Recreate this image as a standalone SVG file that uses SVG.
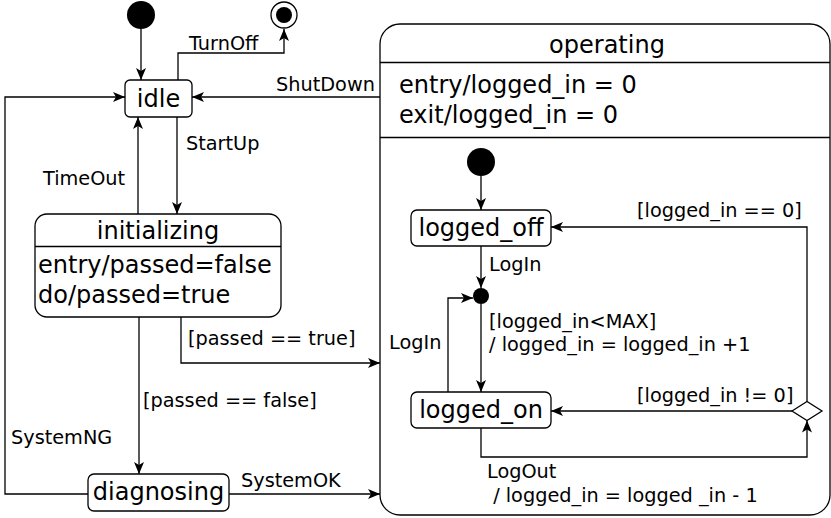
<svg xmlns="http://www.w3.org/2000/svg" width="831" height="518" viewBox="0 0 831 518">
<defs>
<marker id="arr" markerUnits="userSpaceOnUse" markerWidth="13" markerHeight="11" refX="12" refY="5" orient="auto">
<path d="M0,0 L12,5 L0,10 L3,5 z" fill="#000"/>
</marker>
<style>
.box{fill:#fff;stroke:#000;stroke-width:1.3}
.big{font-family:"DejaVu Sans",sans-serif;font-size:24px;fill:#000}
.sm{font-family:"DejaVu Sans",sans-serif;font-size:19.3px;fill:#000}
.mid{text-anchor:middle}
.c{fill:none;stroke:#000;stroke-width:1.3;marker-end:url(#arr)}
</style>
</defs>
<rect width="831" height="518" fill="#fff"/>
<g id="operating">
<rect class="box" x="380" y="24" width="450" height="491" rx="20"/>
<line x1="380" y1="62.5" x2="830" y2="62.5" stroke="#000" stroke-width="1.3"/>
<line x1="380" y1="137.5" x2="830" y2="137.5" stroke="#000" stroke-width="1.3"/>
<text class="big mid" x="607" y="53">operating</text>
<text class="big" x="399" y="93">entry/logged_in = 0</text>
<text class="big" x="399" y="123">exit/logged_in = 0</text>
</g>
<g id="connectors">
<path class="c" d="M141,29 V80"/>
<path class="c" d="M178,80 V53 H284 V29"/>
<path class="c" d="M380,97 H192"/>
<path class="c" d="M177,117 V214"/>
<path class="c" d="M138,214 V117"/>
<path class="c" d="M181,317 V363 H380"/>
<path class="c" d="M139,317 V474"/>
<path class="c" d="M229,494 H380"/>
<path class="c" d="M88,494 H5 V97 H125"/>
<path class="c" d="M481,176 V210"/>
<path class="c" d="M481,246 V288"/>
<path class="c" d="M481,304 V392"/>
<path class="c" d="M448,392 V298 H473"/>
<path class="c" d="M807,401.5 V227 H551"/>
<path class="c" d="M792,411 H551"/>
<path class="c" d="M481,428 V457 H807 V420.5"/>
<text class="sm" x="189" y="50">TurnOff</text>
<text class="sm" x="276" y="91">ShutDown</text>
<text class="sm" x="186" y="150">StartUp</text>
<text class="sm" x="43" y="185">TimeOut</text>
<text class="sm" x="188" y="345">[passed == true]</text>
<text class="sm" x="143" y="407">[passed == false]</text>
<text class="sm" x="11" y="444">SystemNG</text>
<text class="sm" x="241" y="487">SystemOK</text>
<text class="sm" x="637" y="217">[logged_in == 0]</text>
<text class="sm" x="489" y="271">LogIn</text>
<text class="sm" x="489" y="328">[logged_in&lt;MAX]</text>
<text class="sm" x="489" y="351">/ logged_in = logged_in +1</text>
<text class="sm" x="389" y="349">LogIn</text>
<text class="sm" x="637" y="402">[logged_in != 0]</text>
<text class="sm" x="487" y="478">LogOut</text>
<text class="sm" x="487" y="502" xml:space="preserve"> / logged_in = logged _in - 1</text>
</g>
<g id="init_top"><circle cx="141" cy="15" r="14" fill="#000"/></g>
<g id="final"><circle cx="284" cy="15" r="13" fill="#fff" stroke="#000" stroke-width="1.3"/><circle cx="284" cy="15" r="8" fill="#000"/></g>
<g id="idle"><rect class="box" x="125" y="80" width="67" height="37" rx="5"/><text class="big mid" x="158.5" y="107">idle</text></g>
<g id="initializing">
<rect class="box" x="35" y="214" width="246" height="103" rx="12"/>
<line x1="35" y1="246.5" x2="281" y2="246.5" stroke="#000" stroke-width="1.3"/>
<text class="big mid" x="158" y="239">initializing</text>
<text class="big" x="38" y="273">entry/passed=false</text>
<text class="big" x="38" y="303">do/passed=true</text>
</g>
<g id="diagnosing"><rect class="box" x="88" y="474" width="141" height="37" rx="6"/><text class="big mid" x="158.5" y="500">diagnosing</text></g>
<g id="init_inner"><circle cx="481" cy="162" r="14" fill="#000"/></g>
<g id="logged_off"><rect class="box" x="411" y="210" width="140" height="36" rx="6"/><text class="big mid" x="481" y="236">logged_off</text></g>
<g id="junction"><circle cx="481" cy="296" r="8" fill="#000"/></g>
<g id="logged_on"><rect class="box" x="411" y="392" width="140" height="36" rx="6"/><text class="big mid" x="481" y="418">logged_on</text></g>
<g id="choice"><polygon points="792,411 807,401.5 822,411 807,420.5" fill="#fff" stroke="#000" stroke-width="1.3"/></g>
</svg>
